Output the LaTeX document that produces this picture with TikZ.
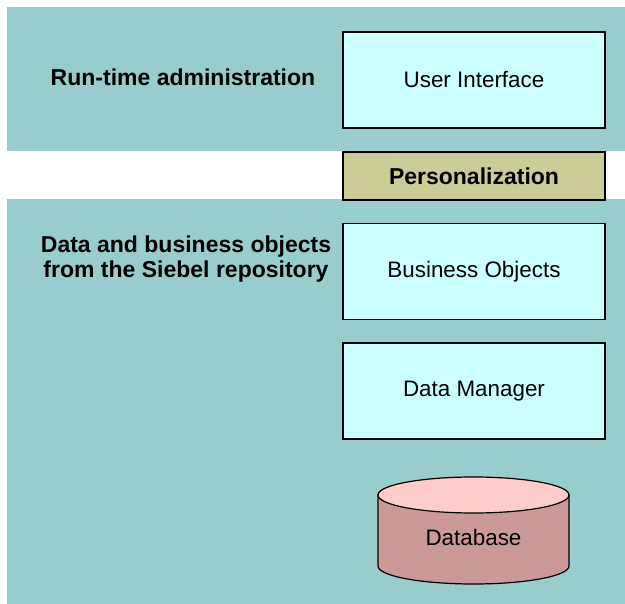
\documentclass[tikz,border=0pt]{standalone}
\usepackage{fontspec}
\setmainfont{Liberation Sans}
\definecolor{bandteal}{HTML}{99CCCC}
\definecolor{boxcyan}{HTML}{CCFFFF}
\definecolor{persolive}{HTML}{CCCC99}
\definecolor{dbside}{HTML}{CC9999}
\definecolor{dbtop}{HTML}{FFCCCC}

\begin{document}
\begin{tikzpicture}[x=1pt, y=-1pt,
every node/.style={inner sep=0pt, font=\fontsize{22.4}{25}\selectfont},
layer/.style={draw=black, line width=1.2pt, fill=boxcyan, minimum width=262pt, minimum height=96pt},
caption/.style={font=\fontsize{23}{25}\selectfont\bfseries, align=center}
]
\useasboundingbox (0,0) rectangle (625,604);
% background bands
\fill[bandteal] (7,7) rectangle (625,151);
\fill[bandteal] (7,199) rectangle (625,604);

\node[caption] (runtime) at (183,77) {Run-time administration};
\node[caption] (repo) at (186,259) {Data and business objects\\from the Siebel repository};

\foreach \n/\y/\t in {ui/80/User Interface, bo/271.5/Business Objects, dm/391/Data Manager}
    \node[layer] (\n) at (474,\y) {\t};
\node[layer, fill=persolive, minimum height=48pt, font=\fontsize{23}{25}\selectfont\bfseries] (pers) at (474,176) {Personalization};

% database cylinder
\filldraw[fill=dbside, line width=1.2pt] (378,495) -- (378,566)
    arc[start angle=180, end angle=360, x radius=95.5pt, y radius=18pt] -- (569,495) -- cycle;
\filldraw[fill=dbtop, line width=1.2pt] (473.5,495) ellipse [x radius=95.5pt, y radius=18pt];
\node (db) at (473.5,537) {Database};
\end{tikzpicture}
\end{document}
